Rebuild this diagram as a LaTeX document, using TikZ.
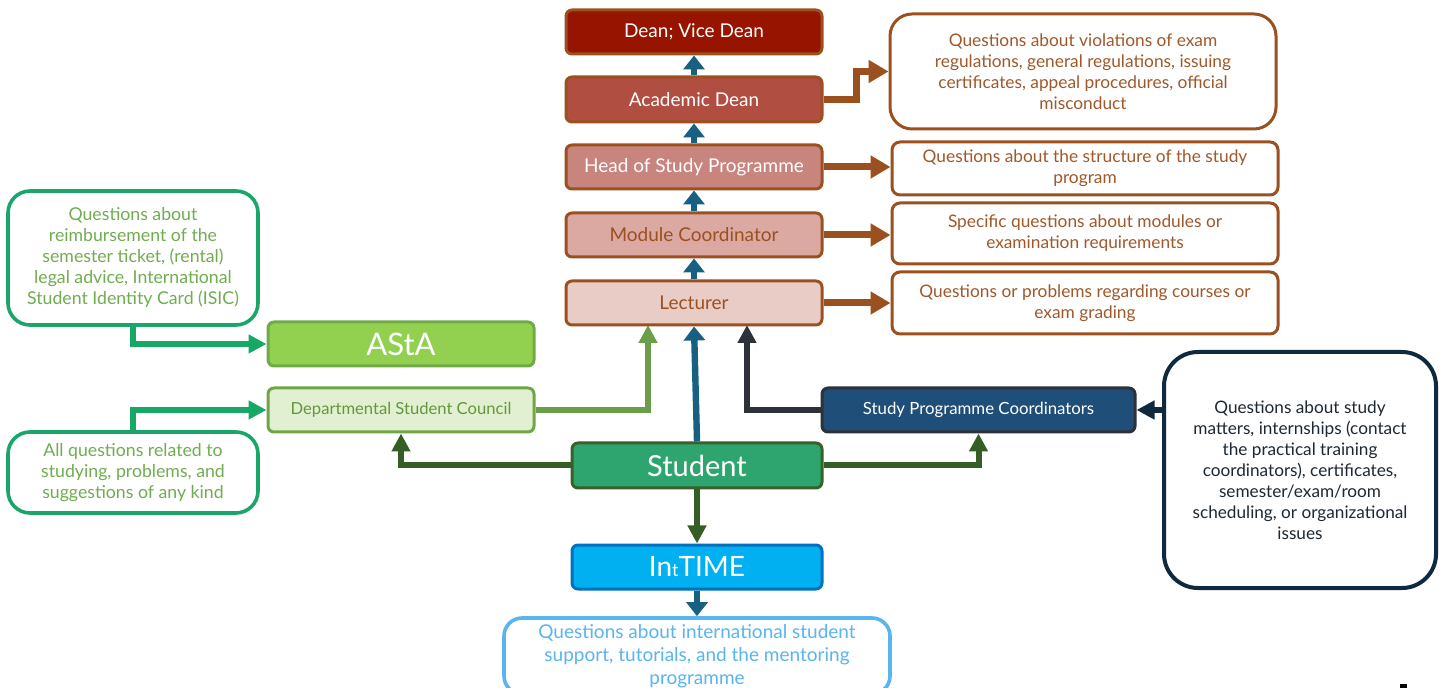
\documentclass[tikz,border=0pt]{standalone}
\usepackage{fontspec}
\setmainfont{Lato}
\usetikzlibrary{arrows.meta}
\pgfdeclarelayer{bg}
\pgfsetlayers{bg,main}
\definecolor{brownb}{RGB}{155,80,32}
\definecolor{brtext}{RGB}{160,88,42}
\definecolor{deanf}{RGB}{150,20,0}
\definecolor{acadf}{RGB}{176,78,66}
\definecolor{headf}{RGB}{200,133,125}
\definecolor{modf}{RGB}{219,169,162}
\definecolor{lectf}{RGB}{234,204,199}
\definecolor{bluea}{RGB}{23,96,130}
\definecolor{astaf}{RGB}{146,208,80}
\definecolor{astab}{RGB}{112,170,70}
\definecolor{dscf}{RGB}{226,240,210}
\definecolor{dscb}{RGB}{112,165,70}
\definecolor{dsct}{RGB}{100,150,60}
\definecolor{lgb}{RGB}{26,166,106}
\definecolor{lgt}{RGB}{112,173,80}
\definecolor{lga}{RGB}{22,168,100}
\definecolor{studf}{RGB}{46,164,110}
\definecolor{studb}{RGB}{56,96,40}
\definecolor{studa}{RGB}{52,94,38}
\definecolor{olivea}{RGB}{106,158,72}
\definecolor{darka}{RGB}{45,50,58}
\definecolor{spcf}{RGB}{31,78,121}
\definecolor{navyb}{RGB}{14,42,60}
\definecolor{navyt}{RGB}{30,40,50}
\definecolor{intf}{RGB}{0,176,240}
\definecolor{intb}{RGB}{0,112,192}
\definecolor{lblue}{RGB}{90,180,240}
\begin{document}
\begin{tikzpicture}[x=0.5pt,y=-0.5pt,
  stk/.style={draw=brownb, line width=1.5pt, rounded corners=3pt, minimum width=128pt, minimum height=22pt, inner sep=0pt, font=\fontsize{9.5}{11}\selectfont},
  qbr/.style={draw=brownb, line width=1.5pt, fill=white, align=center, text=brtext, minimum width=193pt, inner sep=0pt, font=\fontsize{8.65}{10.5}\selectfont},
  lgbox/.style={draw=lgb, line width=1.8pt, fill=white, align=center, text=lgt, minimum width=125pt, inner sep=0pt, rounded corners=11pt, font=\fontsize{8.85}{10.5}\selectfont},
  gbox/.style={line width=1.5pt, rounded corners=3pt, minimum width=133pt, minimum height=22pt, inner sep=0pt},
  cbox/.style={line width=1.5pt, rounded corners=3pt, minimum width=125pt, minimum height=22pt, inner sep=0pt, text=white, font=\fontsize{14}{16}\selectfont},
  brarrow/.style={draw=brownb, line width=3.5pt, -{Triangle[length=10pt,width=11pt]}},
  blarrow/.style={draw=bluea, line width=3.2pt, -{Triangle[length=7pt,width=10.5pt]}},
  conn/.style={line width=3pt, -{Triangle[length=9pt,width=9pt]}}
]
\useasboundingbox (0,0) rectangle (1443,688);

% stack
\node[stk, fill=deanf, text=white] (dean) at (694,32) {Dean; Vice Dean};
\node[stk, fill=acadf, text=white, minimum height=22.5pt] (acad) at (694,99.5) {Academic Dean};
\node[stk, fill=headf, text=white] (head) at (694,167) {Head of Study Programme};
\node[stk, fill=modf, text=brownb] (mod) at (694,235) {Module Coordinator};
\node[stk, fill=lectf, text=brownb] (lect) at (694,303) {Lecturer};

% right question boxes
\node[qbr, rounded corners=11pt, minimum height=57.5pt] (q1) at (1083,71.5) {Questions about violations of exam\\regulations, general regulations, issuing\\certificates, appeal procedures, official\\misconduct};
\node[qbr, rounded corners=4pt, minimum height=26.5pt] (q2) at (1085,168.5) {Questions about the structure of the study\\program};
\node[qbr, rounded corners=4pt, minimum height=30.5pt] (q3) at (1085,233.5) {Specific questions about modules or\\examination requirements};
\node[qbr, rounded corners=4pt, minimum height=31pt] (q4) at (1085,303) {Questions or problems regarding courses or\\exam grading};

% left
\node[gbox, draw=astab, fill=astaf, text=white, font=\fontsize{15.5}{17}\selectfont] (asta) at (401,344) {AStA};
\node[gbox, draw=dscb, fill=dscf, text=dsct, font=\fontsize{8.3}{10}\selectfont] (dsc) at (401,410) {Departmental Student Council};
\node[lgbox, minimum height=67pt] (qa1) at (133,258) {Questions about\\reimbursement of the\\semester ticket, (rental)\\legal advice, International\\Student Identity Card (ISIC)};
\node[lgbox, minimum height=40.5pt] (qa2) at (133,472.5) {All questions related to\\studying, problems, and\\suggestions of any kind};

% center
\node[cbox, draw=studb, fill=studf, minimum height=22.5pt, font=\fontsize{14.5}{16}\selectfont] (stud) at (697,465.5) {Student};
\node[cbox, draw=intb, fill=intf] (intime) at (697,567) {In{\fontsize{9}{10}\selectfont t}TIME};
\node[draw=lblue, line width=1.8pt, fill=white, rounded corners=9pt, minimum width=193pt, minimum height=38pt, inner sep=0pt, align=center, text=lblue, font=\fontsize{9.5}{11.5}\selectfont] (intl) at (697,656) {Questions about international student\\support, tutorials, and the mentoring\\programme};

% right
\node[draw=darka, fill=spcf, text=white, line width=1.5pt, rounded corners=3pt, minimum width=156.5pt, minimum height=22pt, inner sep=0pt, font=\fontsize{8.4}{10}\selectfont] (spc) at (978.5,410) {Study Programme Coordinators};
\node[draw=navyb, line width=2pt, fill=white, rounded corners=17pt, minimum width=136pt, minimum height=118pt, inner sep=0pt, align=center, text=navyt, font=\fontsize{8.6}{10.5}\selectfont] (big) at (1300,470) {Questions about study\\matters, internships (contact\\the practical training\\coordinators), certificates,\\semester/exam/room\\scheduling, or organizational\\issues};

\begin{pgfonlayer}{bg}
\draw[brarrow] (acad.east) -- ++(33,0) |- (q1.west);
\draw[brarrow] (head.east) -- (head.east -| q2.west);
\draw[brarrow] (mod.east) -- (mod.east -| q3.west);
\draw[brarrow] (lect.east) -- (lect.east -| q4.west);
\draw[blarrow] (acad.north) -- (dean.south);
\draw[blarrow] (head.north) -- (acad.south);
\draw[blarrow] (mod.north) -- (head.south);
\draw[blarrow] (lect.north) -- (mod.south);
\draw[blarrow] (stud.north) -- (lect.south);
\draw[blarrow] (intime.south) -- (intl.north);
\coordinate (lg) at (648,325);
\coordinate (ld) at (747,325);
\draw[conn, draw=olivea] (dsc.east) -| (lg);
\draw[conn, draw=darka] (spc.west) -| (ld);
\draw[conn, draw=studa] (stud.west) -| (dsc.south);
\draw[conn, draw=studa] (stud.east) -| (spc.south);
\draw[conn, draw=studa] (stud.south) -- (intime.north);
\draw[conn, draw=lga] (qa1.south) |- (asta.west);
\draw[conn, draw=lga] (qa2.north) |- (dsc.west);
\draw[conn, draw=navyb] (spc.east -| big.west) -- (spc.east);
\end{pgfonlayer}
\fill[black] (1400,684) rectangle (1407,688);
\end{tikzpicture}
\end{document}
